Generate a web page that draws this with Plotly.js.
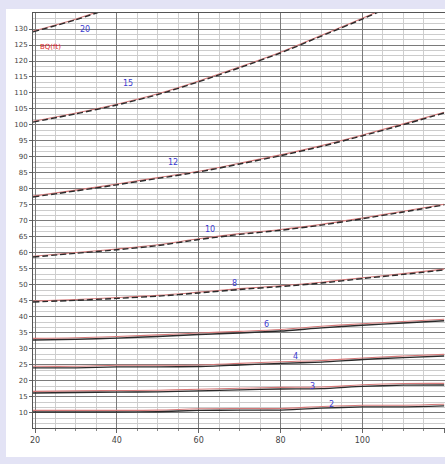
<!DOCTYPE html>
<html>
<head>
<meta charset="utf-8">
<script src="https://cdn.plot.ly/plotly-3.0.1.min.js"></script>
<style>
html,body{margin:0;padding:0;background:#e3e3f5;width:445px;height:464px;overflow:hidden;}
#chart{position:absolute;left:6px;top:9px;width:445px;height:448px;}
</style>
</head>
<body>
<div id="chart"></div>
<script>
// ---- data ----
const xValues = [19.5, 30, 40, 50, 60, 70, 80, 90, 100, 110, 120];
const curveLabels = ["20", "15", "12", "10", "8", "6", "4", "3", "2"];
const curve1 = [129.1, 132.9, 137.2, 142.0, null, null, null, null, null, null, null];
const curve2 = [100.9, 103.5, 106.25, 109.5, 113.5, 117.9, 122.5, 127.8, 133.1, 138.8, null];
const curve3 = [77.5, 79.4, 81.3, 83.3, 85.3, 87.8, 90.4, 93.3, 96.6, 100.1, 103.75];
const curve4 = [58.75, 59.9, 61.0, 62.3, 64.2, 65.8, 67.1, 68.7, 70.7, 72.8, 75.0];
const curve5 = [44.7, 45.2, 45.8, 46.5, 47.5, 48.6, 49.5, 50.6, 52.0, 53.3, 54.7];
const curve6 = [32.8, 33.0, 33.4, 33.9, 34.5, 35.0, 35.6, 36.6, 37.4, 38.1, 38.8];
const curve7 = [24.1, 24.1, 24.4, 24.4, 24.5, 25.0, 25.5, 25.9, 26.7, 27.3, 27.8];
const curve8 = [16.25, 16.4, 16.5, 16.6, 16.9, 17.2, 17.5, 17.6, 18.3, 18.7, 18.75];
const curve9 = [10.3, 10.3, 10.3, 10.4, 10.8, 10.9, 10.9, 11.5, 11.9, 11.9, 12.2];
const labelX = [32.2, 42.7, 53.6, 62.7, 68.8, 76.6, 83.6, 87.8, 92.4];
const labelY = [129.7, 113.1, 88.4, 67.2, 50.6, 37.8, 27.5, 18.4, 12.8];
const yTickVals = [10,15,20,25,30,35,40,45,50,55,60,65,70,75,80,85,90,95,100,105,110,115,120,125,130];
const yTickText = yTickVals.map(v => String(v));
const xTickVals = [20, 40, 60, 80, 100, 120];
const xTickText = ["20", "40", "60", "80", "100", "120"];
const unitNote = "BQ(ft)";

const curves = [curve1, curve2, curve3, curve4, curve5, curve6, curve7, curve8, curve9];
const traces = [];
curves.forEach((c, i) => {
  traces.push({
    x: xValues, y: c.map(v => v === null ? null : v + (i >= 5 ? 0.5 : 0.25)), type: 'scatter', mode: 'lines',
    line: {color: '#d77a7a', width: 1.1, shape: 'spline', smoothing: 1},
    hoverinfo: 'skip', showlegend: false, connectgaps: false
  });
  traces.push({
    x: xValues, y: c, type: 'scatter', mode: 'lines',
    line: {color: '#2b2b2b', width: 1.4, dash: i < 5 ? '6px,3px' : 'solid', shape: 'spline', smoothing: 0.6},
    showlegend: false, connectgaps: false
  });
});

const annotations = curveLabels.map((t, i) => ({
  x: labelX[i], y: labelY[i], text: t, showarrow: false,
  font: {family: 'DejaVu Sans', size: 8, color: '#3a3ad0'}
}));
annotations.push({
  x: 20.6, y: 124.4, xanchor: 'left', text: unitNote, showarrow: false,
  font: {family: 'DejaVu Sans', size: 7, color: '#e02020'}
});

const layout = {
  width: 445, height: 448,
  margin: {l: 27, r: 6, t: 4, b: 29},
  paper_bgcolor: '#ffffff', plot_bgcolor: '#ffffff',
  showlegend: false,
  xaxis: {
    range: [19.5, 120.2], tickvals: xTickVals, ticktext: xTickText,
    showgrid: true, gridcolor: '#7a7a7a', gridwidth: 1,
    minor: {dtick: 5, showgrid: true, gridcolor: '#cfcfcf', gridwidth: 1, ticks: 'outside', ticklen: 2, tickcolor: '#888'},
    ticks: 'outside', ticklen: 4, tickcolor: '#666',
    showline: true, linecolor: '#555', linewidth: 1, mirror: true,
    zeroline: false,
    tickfont: {family: 'DejaVu Sans', size: 8, color: '#444'}
  },
  yaxis: {
    range: [5.3, 135], tickvals: yTickVals, ticktext: yTickText,
    showgrid: true, gridcolor: '#7a7a7a', gridwidth: 1,
    minor: {dtick: 5/3, tick0: 10, showgrid: true, gridcolor: '#cccccc', gridwidth: 1},
    ticks: 'outside', ticklen: 3, tickcolor: '#666',
    showline: true, linecolor: '#555', linewidth: 1, mirror: true,
    zeroline: false,
    tickfont: {family: 'DejaVu Sans', size: 7, color: '#444'}
  },
  annotations: annotations
};

Plotly.newPlot('chart', traces, layout, {displayModeBar: false, staticPlot: true});
</script>
</body>
</html>
